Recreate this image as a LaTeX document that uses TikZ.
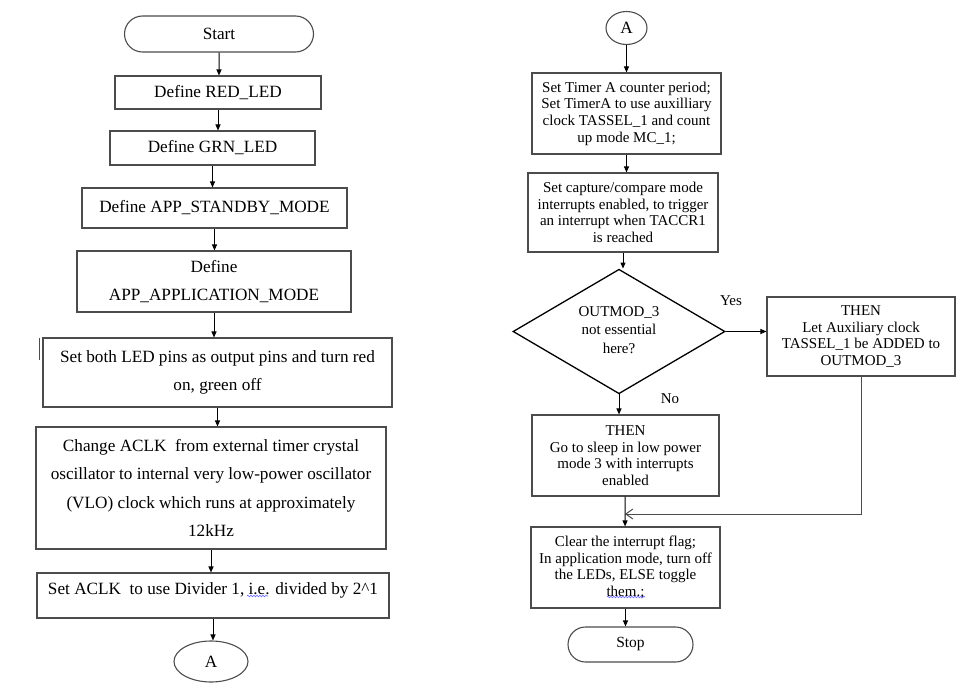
\documentclass[tikz,border=0pt]{standalone}
\usepackage{fontspec}
\setmainfont{Liberation Serif}
\usetikzlibrary{shapes.geometric,shapes.misc,arrows.meta,decorations.pathmorphing}

\begin{document}
\begin{tikzpicture}[x=1pt,y=-1pt,
		every node/.style={font=\fontsize{17.2}{28.5}\selectfont, align=center, inner sep=0pt},
		box/.style={draw=black!70, line width=1.1pt, rectangle},
		smallbox/.style={box, font=\fontsize{15}{16.6}\selectfont},
		term/.style={draw=black!70, line width=1.1pt, rounded rectangle},
		conn/.style={draw=black!70, line width=1.1pt, ellipse},
		arr/.style={-{Triangle[length=6pt,width=5pt]}, line width=1pt},
		merge arr/.style={-{Straight Barb[length=7pt,width=10pt]}, line width=1pt, draw=black!70},
		lbl/.style={font=\fontsize{15}{18}\selectfont}]
		\useasboundingbox (0,0) rectangle (975,696);

		%% Left column
		\node[term, minimum width=189pt, minimum height=36pt] (start) at (219,34) {Start};
		\node[box, minimum width=206pt, minimum height=33pt] (red) at (218,92.5) {Define RED\_LED};
		\node[box, minimum width=205pt, minimum height=34pt] (grn) at (212.5,148) {Define GRN\_LED};
		\node[box, minimum width=265pt, minimum height=40pt] (standby) at (214.5,208) {Define APP\_STANDBY\_MODE};
		\node[box, minimum width=274pt, minimum height=61pt] (appmode) at (214,281.5)
		{Define\\APP\_APPLICATION\_MODE};
		\node[box, minimum width=349pt, minimum height=69pt] (pins) at (217.5,372.5)
		{Set both LED pins as output pins and turn red\\on, green off};
		\node[box, minimum width=350pt, minimum height=122pt] (aclk) at (211,488)
		{Change ACLK\enspace from external timer crystal\\oscillator to internal very low-power oscillator\\(VLO) clock which runs at approximately\\12kHz};
		\node[box, minimum width=352pt, minimum height=45pt] (divider) at (213,595.5)
		{Set ACLK\enspace to use Divider 1, i.e. divided by 2\textasciicircum 1\\[-14pt]\mbox{}};
		\node[conn, minimum width=74pt, minimum height=41pt] (outA) at (211,661.5) {A};

		% stray mark left of the pins box
		\draw[black!70, line width=1pt] (39,338) -- (39,360);

		\draw[arr] (start) -- (start |- red.north);
		\draw[arr] (red) -- (red |- grn.north);
		\draw[arr] (grn) -- (grn |- standby.north);
		\draw[arr] (standby) -- (standby |- appmode.north);
		\draw[arr] (appmode) -- (appmode |- pins.north);
		\draw[arr] (pins) -- (pins |- aclk.north);
		\draw[arr] (aclk) -- (aclk |- divider.north);
		\draw[arr] (divider) -- (divider |- outA.north);

		%% Right column
		\node[conn, minimum width=41pt, minimum height=33pt] (inA) at (626.5,28) {A};
		\node[smallbox, minimum width=189pt, minimum height=81pt] (timer) at (626.5,113.5)
		{Set Timer A counter period;\\Set TimerA to use auxilliary\\clock TASSEL\_1 and count\\up mode MC\_1;};
		\node[smallbox, minimum width=190pt, minimum height=79pt] (capture) at (623,212.5)
		{Set capture/compare mode\\interrupts enabled, to trigger\\an interrupt when TACCR1\\is reached};
		\node[diamond, draw=black, line width=1.3pt, minimum width=212pt, minimum height=123pt,
		font=\fontsize{15}{18.5}\selectfont] (dec) at (619,331.5) {\mbox{}\\[-12pt]OUTMOD\_3\\not essential\\here?};
		\node[smallbox, minimum width=188pt, minimum height=79pt] (yesbox) at (861,336.5)
		{THEN\\Let Auxiliary clock\\TASSEL\_1 be ADDED to\\OUTMOD\_3};
		\node[smallbox, minimum width=187pt, minimum height=81pt] (sleep) at (625.5,455.5)
		{THEN\\Go to sleep in low power\\mode 3 with interrupts\\enabled};
		\node[smallbox, minimum width=189pt, minimum height=81pt] (clear) at (625.5,567.5)
		{Clear the interrupt flag;\\In application mode, turn off\\the LEDs, ELSE toggle\\them.;};
		\node[term, minimum width=125pt, minimum height=35pt, font=\fontsize{15.5}{18}\selectfont] (stop) at (630.5,644.5) {Stop};

		\node[lbl] (lblyes) at (731,301) {Yes};
		\node[lbl] (lblno) at (670,399) {No};
		\coordinate (merge) at (625,514);

		\draw[arr] (inA) -- (inA |- timer.north);
		\draw[arr] (timer) -- (timer |- capture.north);
		\draw[arr] (capture) -- (capture |- dec.north);
		\draw[arr] (dec.east) -- (dec.east -| yesbox.west);
		\draw[arr] (dec) -- (dec |- sleep.north);
		\draw[line width=1pt] (sleep) -- (merge);
		\draw[merge arr] (yesbox) |- (merge);
		\draw[arr] (merge) -- (clear);
		\draw[arr] (clear) -- (clear |- stop.north);

		% spell-check squiggles
		\draw[blue!60, line width=0.6pt, decorate, decoration={snake, amplitude=0.8pt, segment length=3pt}] (247,596) -- (268,596);
		\draw[blue!60, line width=0.6pt, decorate, decoration={snake, amplitude=0.8pt, segment length=3pt}] (607,597) -- (645,597);
	\end{tikzpicture}
\end{document}
